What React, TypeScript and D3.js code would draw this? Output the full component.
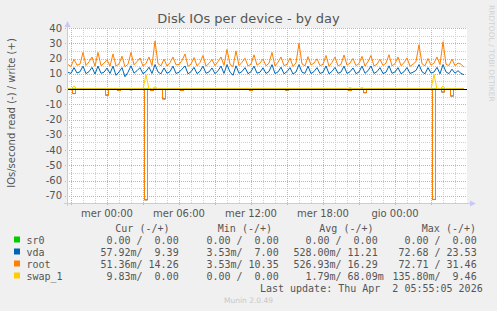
import React from "react";
import * as d3 from "d3";

const W = 497;
const H = 311;

// time window of the day graph (local time)
const viewStart = new Date(2026, 2, 31, 20, 40);
const viewEnd = new Date(2026, 3, 2, 6, 0);
const firstSample = new Date(2026, 2, 31, 20, 45);
const sampleMinutes = 15;

const dayNames = ["dom", "lun", "mar", "mer", "gio", "ven", "sab"];
const yTicks = [40, 30, 20, 10, 0, -10, -20, -30, -40, -50, -60, -70];

// write (+) series
const rootWrite = [
  16, 14.8, 19.5, 15.6, 16.3, 24, 15.4, 17.8, 21, 14.9,
  24, 15.3, 16.9, 19.2, 15, 23, 15.1, 16.4, 21.5, 14.6,
  16.2, 24, 15.8, 18, 20.4, 15, 16.7, 21, 15.4, 31.5,
  16.6, 15.2, 19.6, 15, 17.3, 21, 15.8, 16.1, 18.7, 23,
  14.9, 16.3, 20.6, 15.2, 17.4, 22, 15, 16.8, 19.4, 15.3,
  18, 21, 15.5, 26, 16.2, 14.7, 25, 15.3, 17.5, 20.2,
  15.1, 16.3, 22.4, 15.6, 17, 19.6, 15.2, 16.9, 24, 15,
  17.6, 21, 15.3, 16.2, 20.3, 14.8, 17.1, 30, 16.4, 15.2,
  21.2, 15.7, 17, 19.8, 15.3, 16.2, 22, 14.9, 17.4, 21,
  15.2, 16.1, 22.3, 15.6, 17, 20, 15.3, 16.7, 21.4, 15,
  18, 22, 15.1, 16.3, 19.5, 15.4, 17, 22.5, 15.2, 16.6,
  21, 15.3, 17.2, 20.4, 14.9, 16.2, 18, 29, 16.5, 15.2,
  20, 15.6, 17, 21, 16, 31, 16.2, 15.4, 19.6, 15.3,
  17, 16.3, 14.26,
];
const vdaWrite = [
  11, 10.2, 14, 10.5, 11.3, 15, 10.1, 11.4, 14.2, 9.8,
  15, 10.3, 11, 13.7, 10.2, 15, 9, 11.2, 14, 8,
  11, 15.2, 10.4, 12, 14, 10, 11.5, 14.3, 10.2, 16,
  11.2, 10, 13.8, 10.3, 11.4, 15, 10.2, 11, 13, 15.1,
  10, 11.3, 14.2, 10.1, 11.6, 15, 10.3, 11.2, 13.8, 10,
  12, 15, 10.2, 16, 11.1, 9, 15.2, 10.3, 11.4, 14,
  10.1, 11.3, 15, 10.4, 11, 13.9, 10.2, 11.5, 16, 10.1,
  11.2, 14.3, 10, 11.4, 14, 9.8, 11.2, 16, 11, 10.3,
  15, 10.1, 11.4, 14, 10.2, 11, 15.1, 10, 11.5, 14.2,
  10.3, 11.1, 15, 10.2, 11.3, 13.8, 10.1, 11.2, 15, 10.3,
  12, 15.1, 10.2, 11.4, 14, 10.1, 11, 15.2, 10.3, 11.2,
  14, 10, 11.3, 14.1, 10.2, 11, 12.2, 16, 11.3, 10,
  14, 10.4, 11.1, 14.2, 10, 16, 11.2, 10.1, 13, 10.3,
  12, 10.2, 9.39,
];
const swapWrite = [
  0, 0, 2, 0, 0, 0, 0, 0, 0, 0,
  0, 0, 0, 0, 0, 0, 0, 0, 0, 0,
  0, 0, 0, 0, 0, 0, 9.3, 0, 0, 1.5,
  0, 0, 0, 0, 0, 0, 0, 0, 0, 0,
  0, 0, 0, 0, 0, 0, 0, 0, 0, 0,
  0, 0, 0, 0, 0, 0, 0, 0, 0, 0,
  0, 0, 0, 0, 0, 0, 0, 0, 0, 0,
  0, 0, 0, 0, 0, 0, 0, 0, 0, 0,
  0, 0, 0, 0, 0, 0, 0, 0, 0, 0,
  0, 0, 0, 0, 1, 0, 0, 0, 1, 0,
  0, 0, 0, 0, 0, 0, 0, 0, 0, 0,
  0, 0, 0, 0, 0, 0, 0, 0, 0, 0,
  0, 0, 9.46, 0, 0, 2, 0, 0, 0, 0,
  0, 0, 0,
];
const sr0Write = [
  0, 0, 0, 0, 0, 0, 0, 0, 0, 0, 0, 0, 0, 0, 0, 0, 0, 0, 0, 0,
  0, 0, 0, 0, 0, 0, 0, 0, 0, 0, 0, 0, 0, 0, 0, 0, 0, 0, 0, 0,
  0, 0, 0, 0, 0, 0, 0, 0, 0, 0, 0, 0, 0, 0, 0, 0, 0, 0, 0, 0,
  0, 0, 0, 0, 0, 0, 0, 0, 0, 0, 0, 0, 0, 0, 0, 0, 0, 0, 0, 0,
  0, 0, 0, 0, 0, 0, 0, 0, 0, 0, 0, 0, 0, 0, 0, 0, 0, 0, 0, 0,
  0, 0, 0, 0, 0, 0, 0, 0, 0, 0, 0, 0, 0, 0, 0, 0, 0, 0, 0, 0,
  0, 0, 0, 0, 0, 0, 0, 0, 0, 0, 0, 0, 0,
];

// read (-) series, stored as positive magnitudes
const rootRead = [
  0.3, 0, 3, 0, 0, 0, 0, 0, 0, 0,
  0, 0, 0, 4, 0, 0, 0, 1, 0, 0,
  0, 0.5, 0, 0, 0, 0, 72.71, 0, 1, 0,
  0, 0, 6.5, 0, 0, 0, 0, 0, 1, 0,
  0, 0, 0, 0, 0, 0, 0, 0, 0, 0,
  0, 0, 0, 0, 0, 0, 0, 0, 0, 0,
  0, 1, 0, 0, 0, 0, 0, 0, 0, 0,
  0, 0, 0, 0.8, 0, 0, 0, 0, 0, 0,
  0, 0, 0, 0, 0, 0, 0, 0, 0, 0,
  0, 0, 0, 0, 1, 0, 0, 0, 0, 2.4,
  0, 0, 0, 0, 0, 0, 0, 0, 0, 0,
  0, 0, 0, 0, 0, 0, 0, 0, 0, 0,
  0, 0, 72.5, 0, 0, 2, 0, 0, 4.6, 0,
  0, 0, 0.05,
];
const vdaRead = [
  0.3, 0, 3, 0, 0, 0, 0, 0, 0, 0,
  0, 0, 0, 4, 0, 0, 0, 1, 0, 0,
  0, 0.5, 0, 0, 0, 0, 72.68, 0, 1, 0,
  0, 0, 6.5, 0, 0, 0, 0, 0, 1, 0,
  0, 0, 0, 0, 0, 0, 0, 0, 0, 0,
  0, 0, 0, 0, 0, 0, 0, 0, 0, 0,
  0, 1, 0, 0, 0, 0, 0, 0, 0, 0,
  0, 0, 0, 0.8, 0, 0, 0, 0, 0, 0,
  0, 0, 0, 0, 0, 0, 0, 0, 0, 0,
  0, 0, 0, 0, 1, 0, 0, 0, 0, 2.4,
  0, 0, 0, 0, 0, 0, 0, 0, 0, 0,
  0, 0, 0, 0, 0, 0, 0, 0, 0, 0,
  0, 0, 72.4, 0, 0, 2, 0, 0, 4.6, 0,
  0, 0, 0.06,
];
const swapRead = sr0Write;
const sr0Read = sr0Write;

const seriesNames = ["sr0", "vda", "root", "swap_1"];
const seriesColors = ["#00cc00", "#0066b3", "#ff8000", "#ffcc00"];
const curCol = ["0.00 /  0.00 ", "57.92m/  9.39 ", "51.36m/ 14.26 ", "9.83m/  0.00 "];
const minCol = ["0.00 /  0.00 ", "3.53m/  7.00 ", "3.53m/ 10.35 ", "0.00 /  0.00 "];
const avgCol = ["0.00 /  0.00 ", "528.00m/ 11.21 ", "526.93m/ 16.29 ", "1.79m/ 68.09m"];
const maxCol = ["0.00 /  0.00 ", "72.68 / 23.53 ", "72.71 / 31.46 ", "135.80m/  9.46 "];
const headers = ["Cur (-/+)", "Min (-/+)", "Avg (-/+)", "Max (-/+)"];

const plotL = 67, plotR = 467, plotT = 28, plotB = 203;

export default function App() {
  const x = d3.scaleTime().domain([viewStart, viewEnd]).range([plotL, plotR]);
  const y = d3.scaleLinear().domain([-74.75, 40]).range([plotB, plotT]);
  const tAt = (i: number) => new Date(firstSample.getTime() + i * sampleMinutes * 60000);

  const line = d3
    .line<number>()
    .x((_, i) => x(tAt(i)))
    .y((v) => y(v));
  const stepLine = d3
    .line<number>()
    .x((_, i) => x(tAt(i)))
    .y((v) => y(v))
    .curve(d3.curveStep);

  const readPaths = [sr0Read, vdaRead, rootRead, swapRead].map((arr) => stepLine(arr.map((v) => -v)) || "");
  const writePaths = [sr0Write, vdaWrite, rootWrite, swapWrite].map((arr) => line(arr) || "");

  const minorX = d3.timeHour.every(1)!.range(viewStart, viewEnd);
  const majorX = d3.timeHour.every(3)!.range(viewStart, viewEnd);
  const labelX = d3.timeHour.every(6)!.range(viewStart, viewEnd);
  const minorY = d3.range(-70, 41, 5);
  const fmt = d3.timeFormat("%H:%M");
  const px = (v: number) => Math.round(v) + 0.5;

  const mono = "'DejaVu Sans Mono', monospace";
  const sans = "'DejaVu Sans', sans-serif";
  const legendRows = [240, 252, 264, 276];
  const colEnds = [184.7, 284.7, 383.7, 482.7];
  const headEnds = [169.5, 272, 373.5, 476];

  return (
    <svg width={W} height={H} style={{ position: "absolute", left: 0, top: 0, background: "#f0f0f0" }}>
      <rect x={0} y={0} width={W} height={H} fill="#f0f0f0" />
      <text x={248.5} y={23} textAnchor="middle" fontFamily={sans} fontSize={13} fill="#555">
        Disk IOs per device - by day
      </text>
      <text transform="translate(489,5) rotate(90)" fontFamily={sans} fontSize={7.5} fill="#d0d0d0">
        RRDTOOL / TOBI OETIKER
      </text>
      <rect x={plotL} y={plotT} width={plotR - plotL} height={plotB - plotT} fill="#ffffff" />
      {/* minor grid */}
      {minorX.map((t, i) => (
        <line key={"mx" + i} x1={px(x(t))} x2={px(x(t))} y1={plotT} y2={plotB} stroke="#d0d0d0" strokeDasharray="1,1" />
      ))}
      {minorY.map((v, i) => (
        <line key={"my" + i} x1={plotL} x2={plotR} y1={px(y(v))} y2={px(y(v))} stroke="#d0d0d0" strokeDasharray="1,1" />
      ))}
      {/* major grid */}
      {majorX.map((t, i) => (
        <line key={"Mx" + i} x1={px(x(t))} x2={px(x(t))} y1={plotT} y2={plotB + 3} stroke="#f0a0a0" strokeDasharray="1,1" />
      ))}
      {yTicks.map((v, i) => (
        <line key={"My" + i} x1={plotL - 2} x2={plotR} y1={px(y(v))} y2={px(y(v))} stroke="#f0a0a0" strokeDasharray="1,1" />
      ))}
      {/* y labels */}
      {yTicks.map((v, i) => (
        <text key={"yl" + i} x={62} y={y(v) + 3.5} textAnchor="end" fontFamily={sans} fontSize={10} fill="#555">
          {v}
        </text>
      ))}
      {/* x labels */}
      {labelX.map((t, i) => (
        <text key={"xl" + i} x={x(t)} y={217} textAnchor="middle" fontFamily={sans} fontSize={10} fill="#555">
          {dayNames[t.getDay()] + " " + fmt(t)}
        </text>
      ))}
      <text transform="translate(15,113) rotate(-90)" textAnchor="middle" fontFamily={sans} fontSize={10} fill="#555">
        IOs/second read (-) / write (+)
      </text>
      {/* series */}
      {seriesNames.map((n, i) => (
        <g key={"s" + n}>
          <path d={readPaths[i]} fill="none" stroke={seriesColors[i]} strokeWidth={1} />
          <path d={writePaths[i]} fill="none" stroke={seriesColors[i]} strokeWidth={1} />
        </g>
      ))}
      {/* zero rule */}
      <line x1={plotL} x2={plotR} y1={px(y(0))} y2={px(y(0))} stroke="#000" strokeWidth={1.2} />
      {/* axes */}
      <line x1={plotL + 0.5} x2={plotL + 0.5} y1={plotB + 3} y2={24} stroke="#c8c8f8" />
      <path d={`M${plotL - 2.5},27 L${plotL + 3.5},27 L${plotL + 0.5},21 Z`} fill="#c8c8f8" />
      <line x1={plotL - 3} x2={plotR + 4} y1={plotB + 0.5} y2={plotB + 0.5} stroke="#c8c8f8" />
      <path d={`M${plotR + 3},${plotB - 2.5} L${plotR + 3},${plotB + 3.5} L${plotR + 9},${plotB + 0.5} Z`} fill="#c8c8f8" />
      {/* legend */}
      {headers.map((h, i) => (
        <text key={"h" + i} x={headEnds[i]} y={231.5} textAnchor="end" fontFamily={mono} fontSize={10} fill="#555">
          {h}
        </text>
      ))}
      {seriesNames.map((n, i) => (
        <g key={"lg" + n}>
          <rect x={14} y={legendRows[i] - 3.5} width={6} height={6} fill={seriesColors[i]} />
          <text x={26.5} y={legendRows[i] + 3.5} fontFamily={mono} fontSize={10} fill="#555">
            {n}
          </text>
          {[curCol, minCol, avgCol, maxCol].map((col, j) => (
            <text
              key={"c" + j}
              x={colEnds[j]}
              y={legendRows[i] + 3.5}
              textAnchor="end"
              fontFamily={mono}
              fontSize={10}
              fill="#555"
              style={{ whiteSpace: "pre" }}
            >
              {col[i]}
            </text>
          ))}
        </g>
      ))}
      <text x={482.7} y={291.5} textAnchor="end" fontFamily={mono} fontSize={10} fill="#555" style={{ whiteSpace: "pre" }}>
        {"Last update: Thu Apr  2 05:55:05 2026"}
      </text>
      <text x={248.5} y={303} textAnchor="middle" fontFamily={sans} fontSize={7.5} fill="#c8c8c8">
        Munin 2.0.49
      </text>
    </svg>
  );
}
